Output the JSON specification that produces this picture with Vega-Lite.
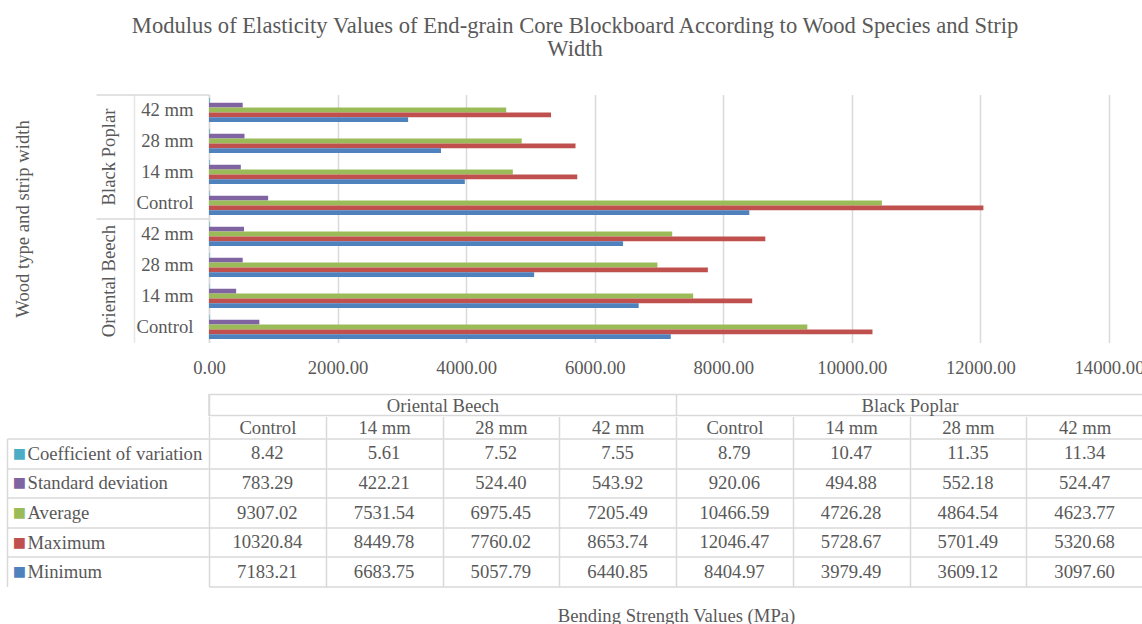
{
  "$schema": "https://vega.github.io/schema/vega-lite/v6.json",
  "background": "white",
  "padding": {"left": 6, "top": 14.5, "right": 0, "bottom": 0},
  "title": {
    "text": ["Modulus of Elasticity Values of End-grain Core Blockboard According to Wood Species and Strip", "Width"],
    "font": "Liberation Serif", "fontSize": 22.6, "fontWeight": "normal", "color": "#595959",
    "lineHeight": 23, "offset": 33, "anchor": "middle"
  },
  "data": {"values": [
    {"species": "Oriental Beech", "group": "Oriental Beech|Control", "stat": "Coefficient of variation", "value": 8.42},
    {"species": "Oriental Beech", "group": "Oriental Beech|Control", "stat": "Standard deviation", "value": 783.29},
    {"species": "Oriental Beech", "group": "Oriental Beech|Control", "stat": "Average", "value": 9307.02},
    {"species": "Oriental Beech", "group": "Oriental Beech|Control", "stat": "Maximum", "value": 10320.84},
    {"species": "Oriental Beech", "group": "Oriental Beech|Control", "stat": "Minimum", "value": 7183.21},
    {"species": "Oriental Beech", "group": "Oriental Beech|14 mm", "stat": "Coefficient of variation", "value": 5.61},
    {"species": "Oriental Beech", "group": "Oriental Beech|14 mm", "stat": "Standard deviation", "value": 422.21},
    {"species": "Oriental Beech", "group": "Oriental Beech|14 mm", "stat": "Average", "value": 7531.54},
    {"species": "Oriental Beech", "group": "Oriental Beech|14 mm", "stat": "Maximum", "value": 8449.78},
    {"species": "Oriental Beech", "group": "Oriental Beech|14 mm", "stat": "Minimum", "value": 6683.75},
    {"species": "Oriental Beech", "group": "Oriental Beech|28 mm", "stat": "Coefficient of variation", "value": 7.52},
    {"species": "Oriental Beech", "group": "Oriental Beech|28 mm", "stat": "Standard deviation", "value": 524.40},
    {"species": "Oriental Beech", "group": "Oriental Beech|28 mm", "stat": "Average", "value": 6975.45},
    {"species": "Oriental Beech", "group": "Oriental Beech|28 mm", "stat": "Maximum", "value": 7760.02},
    {"species": "Oriental Beech", "group": "Oriental Beech|28 mm", "stat": "Minimum", "value": 5057.79},
    {"species": "Oriental Beech", "group": "Oriental Beech|42 mm", "stat": "Coefficient of variation", "value": 7.55},
    {"species": "Oriental Beech", "group": "Oriental Beech|42 mm", "stat": "Standard deviation", "value": 543.92},
    {"species": "Oriental Beech", "group": "Oriental Beech|42 mm", "stat": "Average", "value": 7205.49},
    {"species": "Oriental Beech", "group": "Oriental Beech|42 mm", "stat": "Maximum", "value": 8653.74},
    {"species": "Oriental Beech", "group": "Oriental Beech|42 mm", "stat": "Minimum", "value": 6440.85},
    {"species": "Black Poplar", "group": "Black Poplar|Control", "stat": "Coefficient of variation", "value": 8.79},
    {"species": "Black Poplar", "group": "Black Poplar|Control", "stat": "Standard deviation", "value": 920.06},
    {"species": "Black Poplar", "group": "Black Poplar|Control", "stat": "Average", "value": 10466.59},
    {"species": "Black Poplar", "group": "Black Poplar|Control", "stat": "Maximum", "value": 12046.47},
    {"species": "Black Poplar", "group": "Black Poplar|Control", "stat": "Minimum", "value": 8404.97},
    {"species": "Black Poplar", "group": "Black Poplar|14 mm", "stat": "Coefficient of variation", "value": 10.47},
    {"species": "Black Poplar", "group": "Black Poplar|14 mm", "stat": "Standard deviation", "value": 494.88},
    {"species": "Black Poplar", "group": "Black Poplar|14 mm", "stat": "Average", "value": 4726.28},
    {"species": "Black Poplar", "group": "Black Poplar|14 mm", "stat": "Maximum", "value": 5728.67},
    {"species": "Black Poplar", "group": "Black Poplar|14 mm", "stat": "Minimum", "value": 3979.49},
    {"species": "Black Poplar", "group": "Black Poplar|28 mm", "stat": "Coefficient of variation", "value": 11.35},
    {"species": "Black Poplar", "group": "Black Poplar|28 mm", "stat": "Standard deviation", "value": 552.18},
    {"species": "Black Poplar", "group": "Black Poplar|28 mm", "stat": "Average", "value": 4864.54},
    {"species": "Black Poplar", "group": "Black Poplar|28 mm", "stat": "Maximum", "value": 5701.49},
    {"species": "Black Poplar", "group": "Black Poplar|28 mm", "stat": "Minimum", "value": 3609.12},
    {"species": "Black Poplar", "group": "Black Poplar|42 mm", "stat": "Coefficient of variation", "value": 11.34},
    {"species": "Black Poplar", "group": "Black Poplar|42 mm", "stat": "Standard deviation", "value": 524.47},
    {"species": "Black Poplar", "group": "Black Poplar|42 mm", "stat": "Average", "value": 4623.77},
    {"species": "Black Poplar", "group": "Black Poplar|42 mm", "stat": "Maximum", "value": 5320.68},
    {"species": "Black Poplar", "group": "Black Poplar|42 mm", "stat": "Minimum", "value": 3097.60}
  ]},
  "spacing": 0,
  "vconcat": [
    {
      "width": 900,
      "height": 248,
      "layer": [
        {
          "mark": {"type": "bar"},
          "encoding": {
            "y": {
              "field": "group", "type": "nominal",
              "scale": {
                "domain": ["Black Poplar|42 mm", "Black Poplar|28 mm", "Black Poplar|14 mm", "Black Poplar|Control", "Oriental Beech|42 mm", "Oriental Beech|28 mm", "Oriental Beech|14 mm", "Oriental Beech|Control"],
                "paddingInner": 0.22, "paddingOuter": 0.11
              },
              "axis": {
                "orient": "left", "offset": 75, "title": null,
                "domain": true, "domainColor": "#e6e6e6", "domainWidth": 1.5,
                "ticks": false, "tickSize": 0, "grid": false,
                "labelPadding": -59, "labelAlign": "right", "labelBaseline": "middle",
                "labelExpr": "split(datum.label, '|')[1]"
              }
            },
            "yOffset": {
              "field": "stat", "type": "nominal",
              "scale": {"domain": ["Coefficient of variation", "Standard deviation", "Average", "Maximum", "Minimum"]}
            },
            "x": {
              "field": "value", "type": "quantitative",
              "scale": {"domain": [0, 14000], "nice": false},
              "axis": {
                "values": [0, 2000, 4000, 6000, 8000, 10000, 12000, 14000],
                "format": ".2f", "domain": false, "ticks": false,
                "grid": true, "gridWidth": 1.5, "labelPadding": 16, "labelFlush": false,
                "title": " ", "titleFontSize": 1, "titlePadding": 14.5
              }
            },
            "color": {
              "field": "stat", "type": "nominal",
              "scale": {
                "domain": ["Coefficient of variation", "Standard deviation", "Average", "Maximum", "Minimum"],
                "range": ["#4BACC6", "#8064A2", "#9BBB59", "#C0504D", "#4F81BD"]
              },
              "legend": null
            }
          }
        },
        {
          "mark": {"type": "point", "opacity": 0},
          "encoding": {
            "y": {
              "field": "group", "type": "nominal",
              "axis": {
                "orient": "left", "title": "Wood type and strip width", "titlePadding": 63,
                "values": ["Black Poplar|42 mm", "Oriental Beech|42 mm"],
                "tickOffset": -15.5, "labelOffset": 62,
                "domain": true, "domainWidth": 1.5,
                "ticks": true, "tickSize": 113, "tickWidth": 1.5,
                "grid": false, "labelAngle": 270, "labelAlign": "center", "labelBaseline": "middle",
                "labelPadding": -12,
                "labelExpr": "split(datum.label, '|')[0]"
              }
            }
          }
        }
      ],
      "resolve": {"axis": {"y": "independent"}}
    },
    {
      "width": 934,
      "height": 21,
      "view": {"stroke": "#d9d9d9", "strokeWidth": 1.5},
      "mark": {"type": "text", "text": "", "fontSize": 1},
      "encoding": {
        "x": {
          "field": "species", "type": "nominal",
          "scale": {"domain": ["Oriental Beech", "Black Poplar"], "paddingInner": 0, "paddingOuter": 0},
          "axis": {
            "orient": "top", "title": null, "domain": false, "ticks": false,
            "grid": true, "gridWidth": 1.5, "tickBand": "extent",
            "labelAngle": 0, "labelAlign": "center", "labelBaseline": "middle", "labelPadding": -10.5
          }
        }
      }
    },
    {
      "width": 934,
      "height": 21,
      "mark": {"type": "text", "text": "", "fontSize": 1},
      "encoding": {
        "x": {
          "field": "group", "type": "nominal",
          "scale": {
            "domain": ["Oriental Beech|Control", "Oriental Beech|14 mm", "Oriental Beech|28 mm", "Oriental Beech|42 mm", "Black Poplar|Control", "Black Poplar|14 mm", "Black Poplar|28 mm", "Black Poplar|42 mm"],
            "paddingInner": 0, "paddingOuter": 0
          },
          "axis": {
            "orient": "top", "title": null, "domain": false, "ticks": false,
            "grid": true, "gridWidth": 1.5, "tickBand": "extent",
            "labelAngle": 0, "labelAlign": "center", "labelBaseline": "middle", "labelPadding": -10.5,
            "labelExpr": "split(datum.label, '|')[1]"
          }
        }
      }
    },
    {
      "width": 934,
      "height": 148,
      "layer": [
        {
          "mark": {"type": "text", "font": "Liberation Serif", "fontSize": 18.67, "color": "#595959"},
          "encoding": {
            "x": {
              "field": "group", "type": "nominal",
              "scale": {
                "domain": ["Oriental Beech|Control", "Oriental Beech|14 mm", "Oriental Beech|28 mm", "Oriental Beech|42 mm", "Black Poplar|Control", "Black Poplar|14 mm", "Black Poplar|28 mm", "Black Poplar|42 mm"],
                "paddingInner": 0, "paddingOuter": 0
              },
              "axis": {
                "orient": "bottom", "title": "Bending Strength Values (MPa)", "titlePadding": 20,
                "domain": true, "domainWidth": 1.5, "ticks": false, "labelExpr": "''", "labelPadding": 0,
                "grid": true, "gridWidth": 1.5, "tickBand": "extent"
              }
            },
            "y": {
              "field": "stat", "type": "nominal",
              "scale": {"domain": ["Coefficient of variation", "Standard deviation", "Average", "Maximum", "Minimum"], "paddingInner": 0, "paddingOuter": 0},
              "axis": {
                "orient": "left", "title": null, "domain": false,
                "grid": true, "gridWidth": 1.5,
                "ticks": true, "tickOffset": -14.8, "labelOffset": 14.8, "tickSize": 202, "tickWidth": 1.5,
                "labelAlign": "left", "labelBaseline": "middle", "labelPadding": -20, "labelLimit": 400
              }
            },
            "text": {"field": "value", "type": "quantitative", "format": ".2f"}
          }
        },
        {
          "mark": {"type": "point", "opacity": 0},
          "encoding": {
            "y": {
              "field": "stat", "type": "nominal",
              "axis": {
                "orient": "left", "offset": 202, "title": null,
                "domain": true, "domainWidth": 1.5,
                "ticks": false, "tickSize": 0, "grid": false,
                "labelExpr": "'■'", "labelFont": "Liberation Sans", "labelFontSize": 22,
                "labelAlign": "center", "labelBaseline": "middle", "labelPadding": -12,
                "labelColor": {
                  "condition": [
                    {"test": "datum.value === 'Minimum'", "value": "#4F81BD"},
                    {"test": "datum.value === 'Maximum'", "value": "#C0504D"},
                    {"test": "datum.value === 'Average'", "value": "#9BBB59"},
                    {"test": "datum.value === 'Standard deviation'", "value": "#8064A2"}
                  ],
                  "value": "#4BACC6"
                }
              }
            }
          }
        }
      ],
      "resolve": {"axis": {"y": "independent"}}
    }
  ],
  "config": {
    "view": {"stroke": null},
    "axis": {
      "labelFont": "Liberation Serif", "labelFontSize": 18.67, "labelColor": "#595959",
      "titleFont": "Liberation Serif", "titleFontSize": 18.67, "titleFontWeight": "normal", "titleColor": "#595959",
      "gridColor": "#d9d9d9", "domainColor": "#d9d9d9", "tickColor": "#d9d9d9"
    }
  }
}
